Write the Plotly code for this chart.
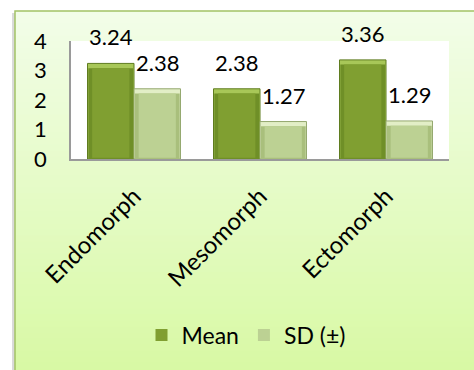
import plotly.graph_objects as go

# Somatotype components: mean and standard deviation
categories = ["Endomorph", "Mesomorph", "Ectomorph"]
mean_values = [3.24, 2.38, 3.36]
sd_values = [2.38, 1.27, 1.29]
y_ticks = [0, 1, 2, 3, 4]

W, H = 474, 370
L, R, T, B = 71, 25, 41, 211
PW, PH = W - L - R, H - T - B


def px_x(px):
    return (px - L) / PW


def px_y(py):
    return (H - B - py) / PH


FONT = "Lato"
bar_w = 0.369
side_frac = 0.965
inner_frac = 0.80
cap = 0.16
foot = 0.04

fig = go.Figure()

# name, values, offset, top bevel, outline, side bevel, face
series = [
    ("Mean", mean_values, -bar_w, "#A8C758", "#5F7C1F", "#6F8F27", "#809F31"),
    ("SD (±)", sd_values, 0.0, "#E2EEC6", "#94A86F", "#A9BF7C", "#BCD193"),
]

# bar body: light top bevel with outline
for name, vals, off, top, line, side, face in series:
    fig.add_trace(go.Bar(
        x=categories, y=vals, width=bar_w, offset=off,
        marker=dict(color=top, line=dict(color=line, width=1)),
        showlegend=False, hoverinfo="skip",
    ))

# side bevels below the top bevel
for name, vals, off, top, line, side, face in series:
    fig.add_trace(go.Bar(
        x=categories, y=[v - cap for v in vals],
        width=bar_w * side_frac, offset=off + bar_w * (1 - side_frac) / 2,
        marker=dict(color=side, line=dict(width=0)),
        showlegend=False, hoverinfo="skip",
    ))

# flat face of each bar
for name, vals, off, top, line, side, face in series:
    fig.add_trace(go.Bar(
        x=categories, y=[v - cap - foot for v in vals], base=foot,
        width=bar_w * inner_frac, offset=off + bar_w * (1 - inner_frac) / 2,
        marker=dict(color=face, line=dict(width=0)),
        name=name, showlegend=True,
    ))

# value labels above the bars
for name, vals, off, *_ in series:
    for c, v in zip(categories, vals):
        fig.add_annotation(
            x=c, y=v, xref="x", yref="y", text=f"{v:.2f}", showarrow=False,
            xshift=(off + bar_w / 2) * PW / 3, yanchor="bottom", yshift=11,
            font=dict(family=FONT, size=22, color="#000000"),
        )

shapes = []
# chart-area gradient background
top_c = (0xF2, 0xFD, 0xE8)
bot_c = (0xD8, 0xF9, 0xA4)
y_top, y_bot = 11, H + 5
n = 60
for i in range(n):
    t = i / (n - 1)
    col = tuple(round(a + (b - a) * t) for a, b in zip(top_c, bot_c))
    y0 = y_top + (y_bot - y_top) * i / n
    y1 = y_top + (y_bot - y_top) * (i + 1) / n + 1
    shapes.append(dict(
        type="rect", xref="paper", yref="paper", layer="below",
        x0=px_x(15), x1=px_x(W + 5), y0=px_y(y0), y1=px_y(y1),
        fillcolor="rgb(%d,%d,%d)" % col, line=dict(width=0),
    ))
# soft shadow and green frame
shapes.append(dict(type="rect", xref="paper", yref="paper", layer="below",
                   x0=px_x(12), x1=px_x(15), y0=px_y(13), y1=px_y(H + 5),
                   fillcolor="rgba(150,150,150,0.35)", line=dict(width=0)))
shapes.append(dict(type="rect", xref="paper", yref="paper", layer="below",
                   x0=px_x(15), x1=px_x(W + 5), y0=px_y(11), y1=px_y(H + 5),
                   fillcolor="rgba(0,0,0,0)", line=dict(color="#A3C266", width=1.5)))
# white plotting area
shapes.append(dict(type="rect", xref="x domain", yref="y domain", layer="below",
                   x0=0, x1=1, y0=0, y1=1, fillcolor="#FFFFFF", line=dict(width=0)))

fig.update_layout(
    width=W, height=H,
    margin=dict(l=L, r=R, t=T, b=B, pad=0),
    paper_bgcolor="#FFFFFF", plot_bgcolor="rgba(0,0,0,0)",
    barmode="overlay",
    shapes=shapes,
    font=dict(family=FONT, color="#000000"),
    legend=dict(
        orientation="h", x=px_x(246), y=px_y(335), xanchor="center", yanchor="middle",
        font=dict(family=FONT, size=23), bgcolor="rgba(0,0,0,0)",
        itemwidth=30, traceorder="normal",
    ),
    xaxis=dict(
        type="category", range=[-0.5, 2.5], showgrid=False,
        showline=True, linecolor="#9A9A9A", linewidth=1.5,
        ticks="", tickangle=-45, tickfont=dict(family=FONT, size=24),
        ticklabelstandoff=12,
    ),
    yaxis=dict(
        range=[0, 4], tickvals=y_ticks, showgrid=False, zeroline=False,
        showline=True, linecolor="#9A9A9A", linewidth=1.5,
        ticks="", tickfont=dict(family=FONT, size=22), ticklabelstandoff=18,
    ),
    showlegend=True,
)

fig.write_html("out.html")
